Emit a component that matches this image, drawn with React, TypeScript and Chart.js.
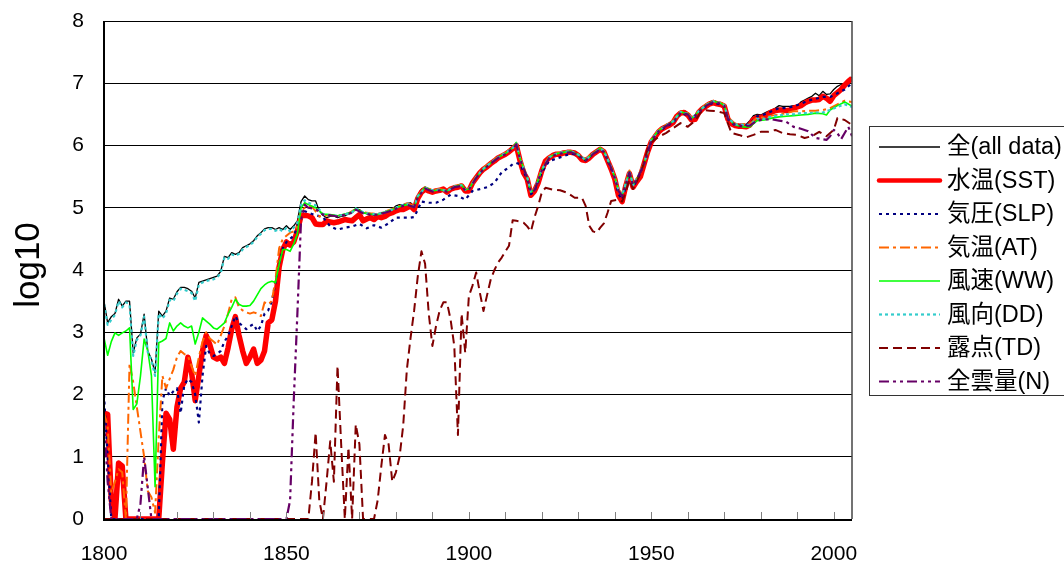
import React, { useEffect, useRef } from "react";
import { Chart, registerables } from "chart.js";

Chart.register(...registerables);

// ---------- axis settings ----------
const X_MIN = 1800;
const X_MAX = 2005;
const X_TICK_STEP = 10;
const X_LAST_TICK = 2000;
const X_LABEL_YEARS = [1800, 1850, 1900, 1950, 2000];
const Y_MIN = 0;
const Y_MAX = 8;
const Y_TITLE = "log10";

// ---------- series names ----------
const SERIES_NAMES = [
  "全(all data)",
  "水温(SST)",
  "気圧(SLP)",
  "気温(AT)",
  "風速(WW)",
  "風向(DD)",
  "露点(TD)",
  "全雲量(N)",
];

// ---------- data: yearly series (start year + values) ----------
const ALL_START = 1800;
const ALL_VALUES = [
  3.5, 3.15, 3.25, 3.3, 3.53, 3.42, 3.5, 3.5, 2.67, 2.91,
  2.97, 3.29, 2.7, 2.57, 2.35, 3.34, 3.26, 3.34, 3.55, 3.53,
  3.65, 3.72, 3.72, 3.7, 3.66, 3.55, 3.8, 3.82, 3.84, 3.86,
  3.88, 3.9, 3.98, 4.22, 4.2, 4.28, 4.25, 4.28, 4.36, 4.39,
  4.42, 4.47, 4.55, 4.6, 4.66, 4.68, 4.68, 4.65, 4.68, 4.65,
  4.71, 4.65, 4.71, 4.79, 5.1, 5.19, 5.13, 5.11, 5.11, 4.95,
  4.88, 4.84, 4.86, 4.87, 4.84, 4.86, 4.87, 4.9, 4.92, 4.98,
  4.97, 4.92, 4.9, 4.89, 4.88, 4.87, 4.92, 4.93, 4.95, 4.98,
  5.03, 5.05, 5.05, 5.07, 5.08, 5.03, 5.2, 5.3, 5.33, 5.3,
  5.27, 5.29, 5.3, 5.32, 5.27, 5.32, 5.35, 5.36, 5.37, 5.3,
  5.3, 5.42, 5.5, 5.58, 5.64, 5.68, 5.73, 5.77, 5.82, 5.85,
  5.88, 5.92, 5.97, 6.04, 5.8, 5.6, 5.5, 5.27, 5.3, 5.42,
  5.62, 5.77, 5.82, 5.86, 5.88, 5.88, 5.9, 5.91, 5.91, 5.9,
  5.86, 5.79, 5.78, 5.82, 5.88, 5.92, 5.96, 5.92, 5.78, 5.66,
  5.5, 5.3, 5.22, 5.4, 5.58, 5.38, 5.45, 5.52, 5.72, 5.92,
  6.08, 6.18, 6.25, 6.3, 6.33, 6.36, 6.4, 6.5, 6.55, 6.56,
  6.52, 6.44, 6.45, 6.56, 6.62, 6.66, 6.7, 6.72, 6.7, 6.69,
  6.66, 6.45, 6.38, 6.35, 6.34, 6.34, 6.34, 6.4, 6.48, 6.5,
  6.49, 6.52, 6.55, 6.57, 6.6, 6.64, 6.63, 6.63, 6.63, 6.64,
  6.64, 6.7, 6.73, 6.76, 6.79, 6.84, 6.8, 6.87, 6.82, 6.83,
  6.9, 6.95, 6.98, 7.0, 7.06, 7.1,
];

const SST_START = 1800;
const SST_VALUES = [
  1.7, 1.68, 0.3, 0, 0.9, 0.85, 0, 0, 0, 0,
  0, 0, 0, 0, 0, 0, 0.9, 1.7, 1.6, 1.12,
  1.8, 2.1, 2.2, 2.6, 2.35, 1.9, 2.3, 2.7, 2.95, 2.8,
  2.6, 2.57, 2.6, 2.5, 2.75, 3.05, 3.25, 2.95, 2.7, 2.5,
  2.6, 2.73, 2.5, 2.55, 2.7, 3.15, 3.2, 3.5, 4.05, 4.33,
  4.45, 4.4, 4.45, 4.63, 4.87, 4.88, 4.87, 4.84, 4.74, 4.73,
  4.73, 4.79, 4.77, 4.76, 4.77, 4.79, 4.81, 4.8, 4.79, 4.84,
  4.89, 4.79, 4.82, 4.84, 4.81, 4.86, 4.84, 4.86, 4.9, 4.92,
  4.95, 4.97, 4.97, 5.0, 5.03, 4.97, 5.15, 5.25, 5.3, 5.27,
  5.25, 5.27, 5.28, 5.3, 5.25, 5.3, 5.32, 5.33, 5.35, 5.27,
  5.27, 5.4, 5.48, 5.56, 5.62, 5.66, 5.71, 5.75, 5.8, 5.83,
  5.86, 5.9, 5.95, 6.0, 5.76, 5.56, 5.46, 5.2, 5.27, 5.4,
  5.6, 5.75, 5.8, 5.84, 5.86, 5.86, 5.88, 5.89, 5.89, 5.88,
  5.84, 5.77, 5.76, 5.8, 5.86, 5.9, 5.94, 5.9, 5.76, 5.62,
  5.46, 5.2, 5.1, 5.35, 5.55, 5.33, 5.42, 5.5, 5.7, 5.9,
  6.06, 6.14, 6.22, 6.27, 6.3, 6.33, 6.37, 6.47, 6.52, 6.53,
  6.49, 6.41, 6.42, 6.53, 6.59, 6.63, 6.67, 6.69, 6.67, 6.66,
  6.63, 6.42, 6.35, 6.32, 6.31, 6.31, 6.3, 6.33, 6.42, 6.45,
  6.45, 6.47, 6.5, 6.54, 6.56, 6.57, 6.57, 6.56, 6.57, 6.6,
  6.62, 6.64, 6.68, 6.71, 6.73, 6.73, 6.74, 6.79, 6.76, 6.71,
  6.8, 6.85, 6.9, 6.97, 7.03, 7.08,
];

// ---------- data: [year, value] series ----------
const SLP_POINTS: [number, number][] = [
  [1800, 2.0], [1801, 1.0], [1802, 0], [1815, 0], [1816, 1.9], [1817, 2.1], [1818, 1.98], [1819, 2.05], [1820, 2.1], [1821, 1.7],
  [1822, 2.15], [1823, 2.25], [1824, 2.2], [1825, 2.0], [1826, 1.55], [1827, 2.3], [1828, 2.78], [1829, 2.65], [1830, 2.62], [1831, 2.65],
  [1832, 2.7], [1833, 2.85], [1834, 2.94], [1835, 3.1], [1836, 3.26], [1837, 3.15], [1838, 3.1], [1839, 3.05], [1840, 3.1], [1841, 3.13],
  [1842, 3.02], [1843, 3.1], [1844, 3.3], [1845, 3.35], [1846, 3.5], [1847, 3.8], [1848, 4.1], [1849, 4.35], [1850, 4.45], [1851, 4.5],
  [1852, 4.55], [1853, 4.7], [1854, 4.97], [1856, 4.92], [1858, 4.88], [1860, 4.85], [1862, 4.7], [1864, 4.65], [1866, 4.68], [1868, 4.7],
  [1870, 4.74], [1872, 4.67], [1874, 4.72], [1876, 4.68], [1878, 4.75], [1880, 4.84], [1882, 4.84], [1884, 4.84], [1885, 4.85], [1886, 4.97],
  [1887, 5.1], [1889, 5.08], [1891, 5.08], [1893, 5.13], [1895, 5.21], [1897, 5.19], [1899, 5.13], [1901, 5.27], [1903, 5.3], [1905, 5.33],
  [1907, 5.4], [1909, 5.57], [1911, 5.65], [1912, 5.7], [1913, 5.72], [1914, 5.7], [1916, 5.46], [1917, 5.22], [1918, 5.27], [1920, 5.57],
  [1922, 5.75], [1924, 5.79], [1926, 5.83], [1928, 5.87], [1930, 5.84], [1932, 5.76], [1934, 5.86], [1936, 5.94], [1937, 5.9], [1939, 5.63],
  [1940, 5.47], [1941, 5.22], [1942, 5.13], [1943, 5.34], [1944, 5.55], [1945, 5.34], [1946, 5.43], [1948, 5.7], [1950, 6.07], [1952, 6.22],
  [1954, 6.3], [1956, 6.37], [1958, 6.52], [1960, 6.49], [1961, 6.41], [1963, 6.53], [1965, 6.63], [1967, 6.69], [1969, 6.66], [1970, 6.63],
  [1971, 6.42], [1973, 6.32], [1975, 6.31], [1977, 6.35], [1979, 6.47], [1981, 6.5], [1983, 6.55], [1985, 6.6], [1987, 6.6], [1989, 6.63],
  [1991, 6.67], [1993, 6.72], [1995, 6.75], [1997, 6.78], [1999, 6.78], [2001, 6.84], [2003, 6.9], [2005, 7.0],
];

const AT_POINTS: [number, number][] = [
  [1800, 1.7], [1801, 1.5], [1802, 0.42], [1803, 0.6], [1804, 0.8], [1805, 0.75], [1806, 0], [1807, 2.5], [1808, 2.2], [1809, 1.8],
  [1810, 1.4], [1811, 1.0], [1812, 0.45], [1813, 0.35], [1814, 0.1], [1815, 1.3], [1816, 2.3], [1817, 2.1], [1818, 2.25], [1819, 2.4],
  [1820, 2.6], [1821, 2.7], [1822, 2.65], [1823, 2.62], [1824, 2.45], [1825, 2.3], [1826, 2.6], [1827, 2.85], [1828, 3.0], [1829, 2.9],
  [1830, 2.85], [1831, 2.8], [1832, 2.95], [1833, 3.1], [1834, 3.3], [1835, 3.53], [1836, 3.56], [1837, 3.4], [1838, 3.35], [1839, 3.32],
  [1840, 3.3], [1841, 3.32], [1842, 3.3], [1843, 3.26], [1844, 3.48], [1845, 3.45], [1846, 3.5], [1847, 3.85], [1848, 4.35], [1849, 4.5],
  [1850, 4.55], [1851, 4.6], [1852, 4.62], [1853, 4.7], [1854, 4.95], [1855, 5.0], [1856, 5.03], [1857, 5.02], [1859, 4.86], [1861, 4.88],
  [1863, 4.88], [1865, 4.88], [1867, 4.91], [1869, 4.98], [1871, 4.93], [1873, 4.91], [1875, 4.9], [1877, 4.94], [1879, 4.98], [1881, 5.03],
  [1883, 5.07], [1885, 5.03], [1886, 5.19], [1888, 5.33], [1890, 5.28], [1892, 5.3], [1894, 5.28], [1896, 5.35], [1898, 5.37], [1899, 5.3],
  [1900, 5.31], [1902, 5.5], [1904, 5.64], [1906, 5.73], [1908, 5.82], [1910, 5.88], [1912, 5.97], [1913, 6.04], [1914, 5.8], [1916, 5.5],
  [1917, 5.27], [1918, 5.3], [1920, 5.62], [1922, 5.82], [1924, 5.88], [1926, 5.9], [1928, 5.91], [1930, 5.86], [1932, 5.78], [1934, 5.88],
  [1936, 5.96], [1937, 5.92], [1939, 5.66], [1940, 5.5], [1941, 5.29], [1942, 5.21], [1943, 5.4], [1944, 5.6], [1945, 5.38], [1946, 5.46],
  [1948, 5.72], [1950, 6.1], [1952, 6.25], [1954, 6.33], [1956, 6.4], [1958, 6.55], [1960, 6.52], [1961, 6.44], [1963, 6.56], [1965, 6.66],
  [1967, 6.72], [1969, 6.69], [1970, 6.66], [1971, 6.45], [1973, 6.35], [1975, 6.34], [1977, 6.35], [1979, 6.45], [1981, 6.45], [1983, 6.48],
  [1985, 6.5], [1987, 6.52], [1989, 6.55], [1991, 6.55], [1993, 6.56], [1995, 6.56], [1997, 6.57], [1999, 6.6], [2001, 6.66], [2003, 6.72], [2005, 6.7],
];

const WW_POINTS: [number, number][] = [
  [1800, 2.91], [1801, 2.63], [1802, 2.85], [1803, 2.99], [1804, 2.95], [1805, 2.99], [1806, 3.02], [1807, 3.07], [1808, 1.76], [1809, 1.85],
  [1810, 2.3], [1811, 2.89], [1812, 2.7], [1813, 2.3], [1814, 0.52], [1815, 2.83], [1816, 2.86], [1817, 2.9], [1818, 3.15], [1819, 3.02],
  [1820, 3.1], [1821, 3.15], [1822, 3.1], [1823, 3.07], [1824, 3.1], [1825, 2.81], [1826, 3.0], [1827, 3.23], [1828, 3.18], [1829, 3.13],
  [1830, 3.07], [1831, 3.05], [1832, 3.1], [1833, 3.15], [1834, 3.29], [1835, 3.4], [1836, 3.53], [1837, 3.45], [1838, 3.42], [1839, 3.42],
  [1840, 3.43], [1841, 3.5], [1842, 3.6], [1843, 3.7], [1844, 3.76], [1845, 3.8], [1846, 3.82], [1847, 3.8], [1848, 4.09], [1849, 4.33],
  [1850, 4.33], [1851, 4.3], [1852, 4.42], [1853, 4.58], [1854, 5.0], [1855, 5.08], [1856, 5.05], [1858, 5.0], [1860, 4.9], [1862, 4.89],
  [1864, 4.87], [1866, 4.9], [1868, 4.93], [1869, 4.99], [1871, 4.92], [1873, 4.9], [1875, 4.89], [1877, 4.93], [1879, 4.97], [1881, 5.02],
  [1883, 5.05], [1885, 5.01], [1886, 5.18], [1888, 5.33], [1890, 5.27], [1892, 5.29], [1894, 5.27], [1896, 5.34], [1898, 5.37], [1899, 5.29],
  [1900, 5.3], [1902, 5.49], [1904, 5.62], [1906, 5.72], [1908, 5.81], [1910, 5.87], [1912, 5.96], [1913, 6.05], [1914, 5.79], [1916, 5.48],
  [1917, 5.25], [1918, 5.29], [1920, 5.61], [1922, 5.81], [1924, 5.87], [1926, 5.89], [1928, 5.91], [1930, 5.85], [1932, 5.77], [1934, 5.87],
  [1936, 5.96], [1937, 5.91], [1939, 5.65], [1940, 5.49], [1941, 5.27], [1942, 5.2], [1943, 5.38], [1944, 5.58], [1945, 5.37], [1946, 5.45],
  [1948, 5.71], [1950, 6.09], [1952, 6.24], [1954, 6.32], [1956, 6.39], [1958, 6.54], [1960, 6.51], [1961, 6.43], [1963, 6.55], [1965, 6.65],
  [1967, 6.71], [1969, 6.68], [1970, 6.64], [1971, 6.43], [1973, 6.33], [1975, 6.3], [1977, 6.3], [1979, 6.4], [1981, 6.41], [1983, 6.44],
  [1985, 6.46], [1987, 6.47], [1989, 6.48], [1991, 6.49], [1993, 6.5], [1995, 6.52], [1997, 6.51], [1998, 6.49], [1999, 6.57], [2001, 6.64],
  [2003, 6.7], [2005, 6.63],
];

const DD_POINTS: [number, number][] = [
  [1800, 3.45], [1801, 3.12], [1802, 3.2], [1803, 3.28], [1804, 3.5], [1805, 3.4], [1806, 3.48], [1807, 3.45], [1808, 2.62], [1809, 2.88],
  [1810, 2.95], [1811, 3.25], [1812, 2.68], [1813, 2.55], [1814, 2.3], [1815, 3.3], [1816, 3.22], [1817, 3.3], [1818, 3.52], [1819, 3.5],
  [1820, 3.62], [1821, 3.7], [1822, 3.68], [1823, 3.66], [1824, 3.63], [1825, 3.5], [1826, 3.77], [1827, 3.8], [1828, 3.82], [1829, 3.84],
  [1830, 3.85], [1831, 3.88], [1832, 3.95], [1833, 4.2], [1834, 4.18], [1835, 4.25], [1836, 4.23], [1837, 4.26], [1838, 4.33], [1839, 4.37],
  [1840, 4.4], [1841, 4.45], [1842, 4.53], [1843, 4.58], [1844, 4.64], [1845, 4.66], [1846, 4.66], [1847, 4.63], [1848, 4.66], [1849, 4.62],
  [1850, 4.68], [1851, 4.62], [1852, 4.68], [1853, 4.76], [1854, 5.05], [1855, 5.12], [1856, 5.08], [1858, 5.04], [1860, 4.9], [1862, 4.88],
  [1864, 4.87], [1866, 4.89], [1868, 4.93], [1869, 4.99], [1871, 4.93], [1873, 4.9], [1875, 4.9], [1877, 4.93], [1879, 4.97], [1881, 5.03],
  [1883, 5.06], [1885, 5.02], [1886, 5.19], [1888, 5.32], [1890, 5.28], [1892, 5.29], [1894, 5.27], [1896, 5.34], [1898, 5.36], [1899, 5.29],
  [1900, 5.3], [1902, 5.49], [1904, 5.63], [1906, 5.72], [1908, 5.81], [1910, 5.88], [1912, 5.96], [1913, 6.03], [1914, 5.79], [1916, 5.49],
  [1917, 5.26], [1918, 5.29], [1920, 5.61], [1922, 5.81], [1924, 5.87], [1926, 5.9], [1928, 5.91], [1930, 5.85], [1932, 5.77], [1934, 5.87],
  [1936, 5.95], [1937, 5.91], [1939, 5.65], [1940, 5.49], [1941, 5.28], [1942, 5.2], [1943, 5.39], [1944, 5.59], [1945, 5.36], [1946, 5.46],
  [1948, 5.71], [1950, 6.09], [1952, 6.24], [1954, 6.32], [1956, 6.39], [1958, 6.54], [1960, 6.51], [1961, 6.43], [1963, 6.55], [1965, 6.65],
  [1967, 6.71], [1969, 6.68], [1970, 6.65], [1971, 6.44], [1973, 6.34], [1975, 6.33], [1977, 6.33], [1979, 6.43], [1981, 6.43], [1983, 6.47],
  [1985, 6.48], [1987, 6.5], [1989, 6.5], [1991, 6.52], [1993, 6.52], [1995, 6.53], [1997, 6.53], [1999, 6.57], [2001, 6.62], [2003, 6.66], [2005, 6.62],
];

const TD_POINTS: [number, number][] = [
  [1800, 0], [1856, 0], [1857, 0.6], [1858, 1.39], [1859, 0.3], [1860, 0], [1861, 0.6], [1862, 1.25], [1863, 0.6], [1864, 2.46],
  [1865, 1.2], [1866, 0], [1867, 1.15], [1868, 0], [1869, 1.52], [1870, 1.2], [1871, 0], [1874, 0], [1875, 0.3], [1876, 0.85],
  [1877, 1.35], [1878, 1.2], [1879, 0.6], [1880, 0.75], [1881, 1.0], [1882, 1.5], [1883, 2.4], [1884, 2.9], [1885, 3.35], [1886, 3.9],
  [1887, 4.3], [1888, 4.1], [1889, 3.3], [1890, 2.78], [1891, 3.1], [1892, 3.35], [1893, 3.48], [1894, 3.48], [1895, 3.2], [1896, 2.78],
  [1897, 1.35], [1898, 3.3], [1899, 2.67], [1900, 3.58], [1901, 3.75], [1902, 3.96], [1903, 3.64], [1904, 3.34], [1905, 3.6], [1906, 3.85],
  [1907, 4.0], [1908, 4.12], [1909, 4.2], [1910, 4.3], [1911, 4.39], [1912, 4.8], [1913, 4.79], [1914, 4.78], [1915, 4.76], [1916, 4.7],
  [1917, 4.62], [1918, 4.85], [1919, 5.03], [1920, 5.25], [1921, 5.32], [1923, 5.29], [1925, 5.28], [1927, 5.24], [1929, 5.16], [1931, 5.16],
  [1932, 5.03], [1933, 4.71], [1934, 4.62], [1935, 4.6], [1936, 4.68], [1937, 4.75], [1938, 4.92], [1939, 5.11], [1941, 5.13], [1942, 5.1],
  [1943, 5.25], [1944, 5.45], [1945, 5.3], [1946, 5.42], [1947, 5.55], [1948, 5.72], [1949, 5.95], [1950, 6.05], [1952, 6.14], [1954, 6.2],
  [1956, 6.28], [1958, 6.36], [1960, 6.3], [1962, 6.4], [1964, 6.57], [1966, 6.56], [1968, 6.55], [1970, 6.52], [1971, 6.35], [1972, 6.2],
  [1974, 6.17], [1976, 6.13], [1978, 6.17], [1980, 6.22], [1982, 6.22], [1984, 6.25], [1986, 6.2], [1988, 6.18], [1990, 6.17], [1992, 6.12],
  [1994, 6.15], [1996, 6.22], [1998, 6.15], [2000, 6.25], [2001, 6.44], [2003, 6.41], [2005, 6.33],
];

const N_POINTS: [number, number][] = [
  [1800, 1.6], [1801, 0.6], [1802, 0], [1809, 0], [1810, 0.25], [1811, 1.0], [1812, 0.5], [1813, 0], [1850, 0], [1851, 0.3],
  [1852, 1.9], [1853, 3.3], [1854, 4.8], [1855, 5.05], [1856, 5.0], [1858, 4.98], [1860, 4.89], [1862, 4.88], [1864, 4.86], [1866, 4.89],
  [1868, 4.92], [1869, 4.97], [1871, 4.91], [1873, 4.89], [1875, 4.89], [1877, 4.92], [1879, 4.96], [1881, 5.01], [1883, 5.05], [1885, 5.01],
  [1886, 5.17], [1888, 5.31], [1890, 5.26], [1892, 5.28], [1894, 5.26], [1896, 5.33], [1898, 5.35], [1899, 5.28], [1900, 5.29], [1902, 5.48],
  [1904, 5.62], [1906, 5.71], [1908, 5.8], [1910, 5.86], [1912, 5.95], [1913, 6.02], [1914, 5.78], [1916, 5.48], [1917, 5.25], [1918, 5.28],
  [1920, 5.6], [1922, 5.8], [1924, 5.86], [1926, 5.88], [1928, 5.89], [1930, 5.84], [1932, 5.76], [1934, 5.86], [1936, 5.94], [1937, 5.9],
  [1939, 5.64], [1940, 5.48], [1941, 5.27], [1942, 5.19], [1943, 5.38], [1944, 5.57], [1945, 5.36], [1946, 5.45], [1948, 5.7], [1950, 6.08],
  [1952, 6.23], [1954, 6.31], [1956, 6.38], [1958, 6.53], [1960, 6.5], [1961, 6.42], [1963, 6.54], [1965, 6.64], [1967, 6.7], [1969, 6.67],
  [1970, 6.64], [1971, 6.43], [1973, 6.33], [1975, 6.31], [1977, 6.32], [1979, 6.4], [1981, 6.42], [1983, 6.42], [1985, 6.4], [1987, 6.38],
  [1989, 6.3], [1991, 6.27], [1993, 6.23], [1995, 6.12], [1997, 6.1], [1998, 6.09], [1999, 6.15], [2000, 6.25], [2001, 6.2], [2002, 6.1],
  [2003, 6.2], [2004, 6.3], [2005, 6.15],
];

// ---------- styles ----------
const SERIES_COLORS = ["#000000", "#ff0000", "#000080", "#ff6600", "#00ff00", "#33cccc", "#800000", "#660066"];
const SERIES_WIDTHS = [1.3, 5.5, 2.2, 2, 1.6, 2.2, 2, 2.2];
const SERIES_DASHES: number[][] = [[], [], [3, 4], [10, 4, 3, 4], [], [3, 3], [9, 5], [10, 4, 3, 4, 3, 4]];

const FONT_FAMILY = '"Liberation Sans", Arial, "Noto Sans CJK JP", sans-serif';

function fromYearly(start: number, values: number[]) {
  return values.map((v, i) => ({ x: start + i, y: v }));
}
function fromPairs(pairs: [number, number][]) {
  return pairs.map(([x, y]) => ({ x, y }));
}

const decorPlugin = {
  id: "decor",
  afterDraw(chart: any) {
    const { ctx, chartArea } = chart;
    const { left, right, top, bottom } = chartArea;
    const xs = chart.scales.x;
    ctx.save();

    // inner minor ticks every 10 years
    ctx.strokeStyle = "#808080";
    ctx.lineWidth = 1;
    ctx.setLineDash([]);
    for (let yr = X_MIN + X_TICK_STEP; yr <= X_MAX; yr += X_TICK_STEP) {
      const px = Math.round(xs.getPixelForValue(yr)) + 0.5;
      ctx.beginPath();
      ctx.moveTo(px, bottom);
      ctx.lineTo(px, bottom - 7);
      ctx.stroke();
    }

    // plot-area border
    ctx.strokeStyle = "#000";
    ctx.lineWidth = 1;
    ctx.beginPath();
    ctx.moveTo(left, Math.round(top) + 0.5);
    ctx.lineTo(right, Math.round(top) + 0.5);
    ctx.stroke();
    ctx.strokeStyle = "#444";
    ctx.lineWidth = 1.5;
    ctx.beginPath();
    ctx.moveTo(right, top);
    ctx.lineTo(right, bottom);
    ctx.stroke();
    ctx.strokeStyle = "#000";
    ctx.lineWidth = 2;
    ctx.beginPath();
    ctx.moveTo(left, top);
    ctx.lineTo(left, bottom + 1);
    ctx.lineTo(right, bottom + 1);
    ctx.stroke();

    // y-axis title
    ctx.save();
    ctx.translate(38.5, 265);
    ctx.rotate(-Math.PI / 2);
    ctx.fillStyle = "#000";
    ctx.font = `35px ${FONT_FAMILY}`;
    ctx.textAlign = "center";
    ctx.textBaseline = "alphabetic";
    ctx.fillText(Y_TITLE, 0, 0);
    ctx.restore();

    // legend
    const lx = 869.5;
    const ly = 126.5;
    ctx.fillStyle = "#fff";
    ctx.fillRect(lx, ly, 210, 269);
    ctx.strokeStyle = "#333";
    ctx.lineWidth = 1;
    ctx.strokeRect(lx, ly, 210, 269);
    ctx.font = `23.5px ${FONT_FAMILY}`;
    ctx.textAlign = "left";
    ctx.textBaseline = "middle";
    SERIES_NAMES.forEach((name, i) => {
      const y = 147 + i * 33.5;
      ctx.beginPath();
      ctx.setLineDash(SERIES_DASHES[i]);
      ctx.strokeStyle = SERIES_COLORS[i];
      ctx.lineWidth = Math.min(SERIES_WIDTHS[i], 4.5);
      ctx.lineCap = i === 1 ? "round" : "butt";
      ctx.moveTo(879, y);
      ctx.lineTo(940, y);
      ctx.stroke();
      ctx.setLineDash([]);
      ctx.fillStyle = "#000";
      ctx.fillText(name, 947, y + 1);
    });
    ctx.restore();
  },
};

export default function App() {
  const canvasRef = useRef<HTMLCanvasElement | null>(null);

  useEffect(() => {
    document.body.style.margin = "0";
    const canvas = canvasRef.current;
    if (!canvas) return;

    const seriesData = [
      fromYearly(ALL_START, ALL_VALUES),
      fromYearly(SST_START, SST_VALUES),
      fromPairs(SLP_POINTS),
      fromPairs(AT_POINTS),
      fromPairs(WW_POINTS),
      fromPairs(DD_POINTS),
      fromPairs(TD_POINTS),
      fromPairs(N_POINTS),
    ];

    const datasets = seriesData.map((data, i) => ({
      label: SERIES_NAMES[i],
      data,
      borderColor: SERIES_COLORS[i],
      backgroundColor: SERIES_COLORS[i],
      borderWidth: SERIES_WIDTHS[i],
      borderDash: SERIES_DASHES[i],
      borderJoinStyle: "round" as const,
      borderCapStyle: "butt" as const,
      pointRadius: 0,
      tension: 0,
      fill: false,
      order: SERIES_NAMES.length - i,
    }));

    const chart = new Chart(canvas, {
      type: "line",
      data: { datasets },
      plugins: [decorPlugin],
      options: {
        animation: false,
        responsive: false,
        devicePixelRatio: 1,
        layout: { padding: { left: 0, top: 21, right: 212, bottom: 0 } },
        plugins: {
          legend: { display: false },
          tooltip: { enabled: false },
        },
        scales: {
          x: {
            type: "linear",
            min: X_MIN,
            max: X_MAX,
            grid: { display: false, drawTicks: false },
            border: { display: false },
            afterBuildTicks: (scale: any) => {
              const ticks: { value: number }[] = [];
              for (let v = X_MIN; v <= X_LAST_TICK; v += X_TICK_STEP) ticks.push({ value: v });
              scale.ticks = ticks;
            },
            afterFit: (scale: any) => {
              scale.height = 47;
              scale.paddingLeft = 0;
              scale.paddingRight = 0;
            },
            ticks: {
              stepSize: X_TICK_STEP,
              autoSkip: false,
              maxRotation: 0,
              minRotation: 0,
              padding: 23,
              color: "#000",
              font: { family: FONT_FAMILY, size: 21 },
              callback: (v: any) => (X_LABEL_YEARS.includes(Number(v)) ? String(v) : ""),
            },
          },
          y: {
            min: Y_MIN,
            max: Y_MAX,
            grid: { color: "#000", lineWidth: 1, drawTicks: false },
            border: { display: false },
            afterFit: (scale: any) => {
              scale.width = 104;
              scale.paddingTop = 0;
              scale.paddingBottom = 0;
            },
            ticks: {
              stepSize: 1,
              padding: 20,
              color: "#000",
              font: { family: FONT_FAMILY, size: 21 },
            },
          },
        },
      },
    });

    return () => chart.destroy();
  }, []);

  return (
    <div style={{ width: 1064, height: 566, background: "#fff" }}>
      <canvas ref={canvasRef} width={1064} height={566} style={{ display: "block" }} />
    </div>
  );
}
